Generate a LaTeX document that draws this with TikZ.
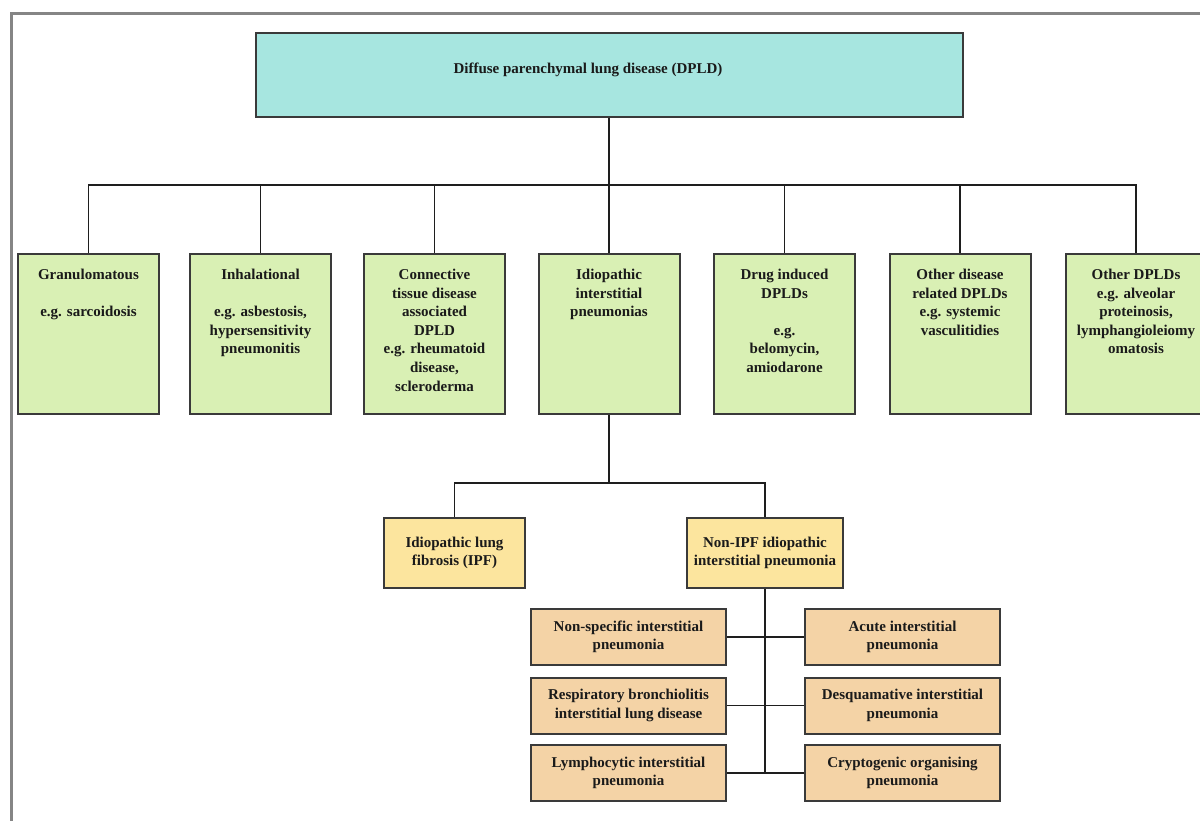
\documentclass[tikz,border=0pt]{standalone}
\usepackage{fontspec}
\setmainfont{Liberation Serif}
\definecolor{topfill}{HTML}{A7E6E0}
\definecolor{gfill}{HTML}{D9F0B4}
\definecolor{yfill}{HTML}{FCE59E}
\definecolor{tfill}{HTML}{F4D3A6}
\definecolor{bord}{HTML}{3A3A3A}
\definecolor{lin}{HTML}{1E1E1E}
\definecolor{txt}{HTML}{1A1A1A}
\definecolor{frm}{HTML}{858585}
\newcommand{\gtext}[1]{\parbox[c][160pt][t]{141pt}{\centering\rule{0pt}{25.5pt}#1}}
\begin{document}
\begin{tikzpicture}[x=1pt,y=-1pt,
  every node/.style={font=\fontsize{15}{18.6}\selectfont\bfseries, text=txt},
  box/.style={draw=bord, line width=2pt, inner sep=0pt},
  topbox/.style={box, fill=topfill, minimum width=707pt, minimum height=84pt},
  gbox/.style={box, fill=gfill, minimum width=141pt, minimum height=160pt},
  ybox/.style={box, fill=yfill, minimum height=70pt, align=center},
  tbox/.style={box, fill=tfill, minimum width=195pt, minimum height=56pt, align=center},
  conn/.style={draw=lin, line width=1.5pt},
  frame/.style={draw=frm, line width=3pt}]
\useasboundingbox (0,0) rectangle (1200,821);
\fill[white] (0,0) rectangle (1200,821);
\draw[frame] (10,14) -- (1205,14);
\draw[frame] (11.5,12.5) -- (11.5,825);

\node[topbox, label={[name=toplbl,xshift=-21pt,yshift=5.5pt]center:Diffuse parenchymal lung disease (DPLD)}] (top) at (609,75) {};

\node[gbox] (g1) at (88.5,334) {\gtext{Granulomatous\\[18.6pt]e.g. sarcoidosis}};
\node[gbox] (g2) at (260.5,334) {\gtext{Inhalational\\[18.6pt]e.g. asbestosis,\\hypersensitivity\\pneumonitis}};
\node[gbox] (g3) at (434.5,334) {\gtext{Connective\\tissue disease\\associated\\DPLD\\e.g. rheumatoid\\disease,\\scleroderma}};
\node[gbox] (g4) at (609,334) {\gtext{Idiopathic\\interstitial\\pneumonias}};
\node[gbox] (g5) at (784.5,334) {\gtext{Drug induced\\DPLDs\\[18.6pt]e.g.\\belomycin,\\amiodarone}};
\node[gbox] (g6) at (960,334) {\gtext{Other disease\\related DPLDs\\e.g. systemic\\vasculitidies}};
\node[gbox] (g7) at (1136,334) {\gtext{Other DPLDs\\e.g. alveolar\\proteinosis,\\lymphangioleiomy\\omatosis}};

\node[ybox, minimum width=141pt] (ipf) at (454.5,553) {Idiopathic lung\\fibrosis (IPF)};
\node[ybox, minimum width=156pt] (nonipf) at (765,553) {Non-IPF idiopathic\\interstitial pneumonia};

\node[tbox] (l1) at (628.5,637) {Non-specific interstitial\\pneumonia};
\node[tbox] (l2) at (628.5,705.5) {Respiratory bronchiolitis\\interstitial lung disease};
\node[tbox] (l3) at (628.5,773) {Lymphocytic interstitial\\pneumonia};
\node[tbox] (r1) at (902.5,637) {Acute interstitial\\pneumonia};
\node[tbox] (r2) at (902.5,705.5) {Desquamative interstitial\\pneumonia};
\node[tbox] (r3) at (902.5,773) {Cryptogenic organising\\pneumonia};

\coordinate (bus) at (609,185);
\draw[conn] (top.south) -- (bus);
\draw[conn] (g1.north) |- (bus) -| (g7.north);
\foreach \g in {g2,g3,g4,g5,g6} \draw[conn] (\g.north) -- (\g.north |- bus);
\coordinate (bus2) at (609,483);
\draw[conn] (g4.south) -- (bus2);
\draw[conn] (ipf.north) |- (bus2) -| (nonipf.north);
\coordinate (spine) at (765,773);
\draw[conn] (nonipf.south) -- (spine);
\draw[conn] (l1.east) -- (r1.west);
\draw[conn] (l2.east) -- (r2.west);
\draw[conn] (l3.east) -- (r3.west);
\end{tikzpicture}
\end{document}
